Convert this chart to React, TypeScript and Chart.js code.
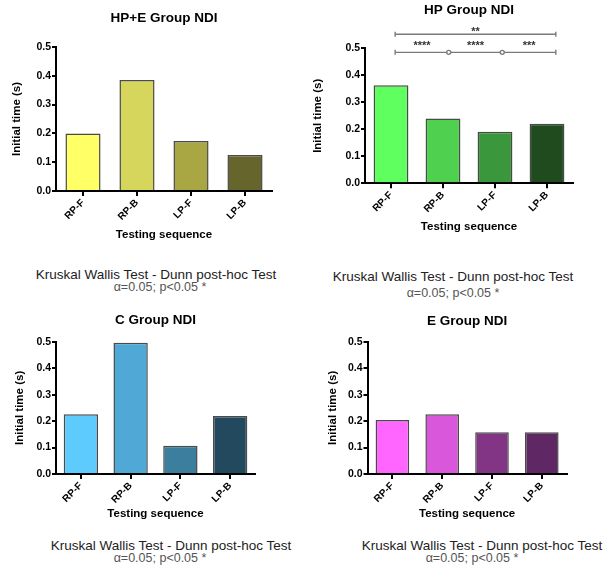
import React, { useEffect, useRef } from 'react';
import { Chart, registerables } from 'chart.js';

Chart.register(...registerables);

// ---------- data ----------
const categories = ['RP-F', 'RP-B', 'LP-F', 'LP-B'];
const yTickValues = [0, 0.1, 0.2, 0.3, 0.4, 0.5];

const hpeValues = [0.2, 0.385, 0.174, 0.125];
const hpValues = [0.363, 0.24, 0.191, 0.221];
const cValues = [0.226, 0.496, 0.107, 0.219];
const eValues = [0.204, 0.226, 0.158, 0.158];

const hpeColors = ['#FFFF66', '#D7D65C', '#A9A744', '#66652B'];
const hpColors = ['#5EFF5E', '#4FD04F', '#3B973B', '#1F4B1F'];
const cColors = ['#5ECBFF', '#4FA8D6', '#3B7E9D', '#22495E'];
const eColors = ['#FF66FF', '#D957DB', '#823585', '#5F2763'];

// significance brackets for the HP group (category index positions, y level in data units)
const hpBracketTop = { from: 0.08, to: 3.17, level: 0.552, label: '**' };
const hpBracketLowStops = [0.08, 1.11, 2.14, 3.17];
const hpBracketLowLevel = 0.485;
const hpBracketLowLabels = ['****', '****', '***'];

const statLine1 = 'Kruskal Wallis Test - Dunn post-hoc Test';
const statLine2 = 'α=0.05; p<0.05 *';

const FONT = '"Liberation Sans", Arial, Helvetica, sans-serif';

const sigPlugin = {
  id: 'sigBrackets',
  afterDraw(chart: any) {
    const opts = chart.options.plugins.sigBrackets;
    if (!opts || !opts.enabled) return;
    const ctx = chart.ctx;
    const xs = chart.scales.x;
    const ys = chart.scales.y;
    ctx.save();
    ctx.strokeStyle = '#7a7a7a';
    ctx.lineWidth = 1.4;
    ctx.font = 'bold 11px ' + FONT;
    ctx.textAlign = 'center';
    ctx.textBaseline = 'middle';
    const cap = (x: number, y: number) => {
      ctx.beginPath();
      ctx.moveTo(x, y - 2.5);
      ctx.lineTo(x, y + 2.5);
      ctx.stroke();
    };
    // top bracket
    const t = hpBracketTop;
    const ty = ys.getPixelForValue(t.level);
    const tx1 = xs.getPixelForValue(t.from);
    const tx2 = xs.getPixelForValue(t.to);
    ctx.beginPath();
    ctx.moveTo(tx1, ty);
    ctx.lineTo(tx2, ty);
    ctx.stroke();
    cap(tx1, ty);
    cap(tx2, ty);
    ctx.fillStyle = '#333';
    ctx.fillText(t.label, (tx1 + tx2) / 2, ty - 2.5);
    // lower bracket
    const ly = ys.getPixelForValue(hpBracketLowLevel);
    const px = hpBracketLowStops.map((v) => xs.getPixelForValue(v));
    ctx.beginPath();
    ctx.moveTo(px[0], ly);
    ctx.lineTo(px[px.length - 1], ly);
    ctx.stroke();
    cap(px[0], ly);
    cap(px[px.length - 1], ly);
    for (let i = 1; i < px.length - 1; i++) {
      ctx.beginPath();
      ctx.arc(px[i], ly, 2, 0, Math.PI * 2);
      ctx.fillStyle = '#ffffff';
      ctx.fill();
      ctx.stroke();
    }
    ctx.fillStyle = '#333';
    for (let i = 0; i < hpBracketLowLabels.length; i++) {
      ctx.fillText(hpBracketLowLabels[i], (px[i] + px[i + 1]) / 2, ly - 6);
    }
    ctx.restore();
  },
};

type PanelProps = {
  left: number;
  top: number;
  w: number;
  h: number;
  title: string;
  values: number[];
  colors: string[];
  barPct: number;
  padL: number;
  padR: number;
  yWidth: number;
  xHeight: number;
  titleTop: number;
  titleBottom: number;
  brackets?: boolean;
};

function Panel(p: PanelProps) {
  const ref = useRef<HTMLCanvasElement | null>(null);
  useEffect(() => {
    if (!ref.current) return;
    const chart = new Chart(ref.current, {
      type: 'bar',
      data: {
        labels: categories,
        datasets: [
          {
            data: p.values,
            backgroundColor: p.colors,
            borderColor: '#4a4a4a',
            borderWidth: 1.5,
            borderSkipped: 'bottom',
            barPercentage: p.barPct,
            categoryPercentage: 1,
          },
        ],
      },
      options: {
        animation: false,
        responsive: false,
        devicePixelRatio: 1,
        layout: { padding: { left: p.padL, right: p.padR, top: 0, bottom: 0 } },
        plugins: {
          legend: { display: false },
          tooltip: { enabled: false },
          title: {
            display: true,
            text: p.title,
            fullSize: false,
            color: '#000',
            font: { family: FONT, size: 13.5, weight: 'bold' },
            padding: { top: p.titleTop, bottom: p.titleBottom },
          },
          sigBrackets: { enabled: !!p.brackets },
        } as any,
        scales: {
          x: {
            type: 'category',
            offset: true,
            grid: {
              display: true,
              drawOnChartArea: false,
              drawTicks: true,
              tickLength: 5,
              color: '#000',
              lineWidth: 2,
              offset: false,
            },
            border: { display: true, color: '#000', width: 2 },
            ticks: {
              color: '#000',
              font: { family: FONT, size: 10, weight: 'bold' },
              maxRotation: 45,
              minRotation: 45,
              autoSkip: false,
              padding: 1,
            },
            title: {
              display: true,
              text: 'Testing sequence',
              color: '#000',
              font: { family: FONT, size: 11.5, weight: 'bold' },
              padding: { top: 2, bottom: 2 },
            },
            afterFit: (scale: any) => {
              scale.height = p.xHeight;
            },
          },
          y: {
            min: 0,
            max: 0.5,
            afterBuildTicks: (scale: any) => {
              scale.ticks = yTickValues.map((v) => ({ value: v }));
            },
            grid: {
              display: true,
              drawOnChartArea: false,
              drawTicks: true,
              tickLength: 4,
              color: '#000',
              lineWidth: 2,
            },
            border: { display: true, color: '#000', width: 2 },
            ticks: {
              color: '#000',
              font: { family: FONT, size: 10.5, weight: 'bold' },
              padding: 1,
              callback: (v: any) => Number(v).toFixed(1),
            },
            title: {
              display: true,
              text: 'Initial time (s)',
              color: '#000',
              font: { family: FONT, size: 11.5, weight: 'bold' },
              padding: { top: 0, bottom: 0 },
            },
            afterFit: (scale: any) => {
              scale.width = p.yWidth;
            },
          },
        },
      } as any,
      plugins: p.brackets ? [sigPlugin] : [],
    });
    return () => chart.destroy();
  }, []);
  return (
    <canvas
      ref={ref}
      width={p.w}
      height={p.h}
      style={{ position: 'absolute', left: p.left, top: p.top, width: p.w, height: p.h }}
    />
  );
}

function StatText({ x1, y1, x2, y2 }: { x1: number; y1: number; x2: number; y2: number }) {
  const base: React.CSSProperties = {
    position: 'absolute',
    transform: 'translate(-50%, -50%)',
    whiteSpace: 'nowrap',
    fontFamily: FONT,
    lineHeight: 1,
  };
  return (
    <>
      <div style={{ ...base, left: x1, top: y1, fontSize: 13.5, color: '#222' }}>{statLine1}</div>
      <div style={{ ...base, left: x2, top: y2, fontSize: 12.5, color: '#555' }}>{statLine2}</div>
    </>
  );
}

export default function App() {
  return (
    <div
      style={{
        position: 'absolute',
        left: 0,
        top: 0,
        width: 607,
        height: 569,
        background: '#fff',
        overflow: 'hidden',
      }}
    >
      <Panel
        left={0} top={0} w={300} h={244}
        title="HP+E Group NDI" values={hpeValues} colors={hpeColors} barPct={0.65}
        padL={10.4} padR={28} yWidth={45.6} xHeight={53} titleTop={10.2} titleBottom={20.6}
      />
      <Panel
        left={300} top={0} w={300} h={236}
        title="HP Group NDI" values={hpValues} colors={hpColors} barPct={0.67}
        padL={11.4} padR={27} yWidth={53.6} xHeight={52.7} titleTop={1.9} titleBottom={30.2}
        brackets
      />
      <Panel
        left={0} top={300} w={300} h={223}
        title="C Group NDI" values={cValues} colors={cColors} barPct={0.69}
        padL={13.1} padR={45} yWidth={42.9} xHeight={49} titleTop={11.9} titleBottom={13.6}
      />
      <Panel
        left={300} top={300} w={300} h={223}
        title="E Group NDI" values={eValues} colors={eColors} barPct={0.675}
        padL={26.1} padR={33.3} yWidth={41.4} xHeight={49} titleTop={13.6} titleBottom={11.9}
      />
      <StatText x1={156} y1={275} x2={160} y2={287} />
      <StatText x1={453} y1={277} x2={453} y2={293} />
      <StatText x1={171} y1={546} x2={160} y2={558} />
      <StatText x1={482} y1={546} x2={472} y2={558} />
    </div>
  );
}
